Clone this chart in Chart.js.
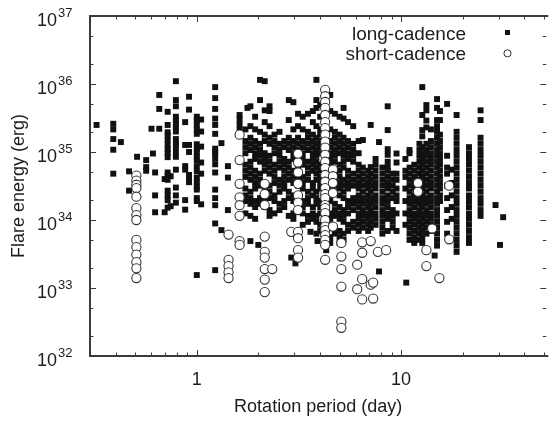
<!DOCTYPE html>
<html>
<head>
<meta charset="utf-8">
<script src="https://cdn.jsdelivr.net/npm/chart.js@4/dist/chart.umd.min.js"></script>
<style>
html, body { margin: 0; padding: 0; background: #fff; }
#wrap { width: 552px; height: 423px; }
</style>
</head>
<body>
<div id="wrap"><canvas id="c" width="552" height="423"></canvas></div>
<script>
// ---- data (energies in units of 1e33 erg) ----
const ENERGY_UNIT = 1e33;

const xMajorTicks = [1, 10];
const xMinorTicks = [0.4, 0.5, 0.6, 0.7, 0.8, 0.9, 2, 3, 4, 5, 6, 7, 8, 9, 20, 30, 40, 50];
const yMajorTicks = [1e32, 1e33, 1e34, 1e35, 1e36, 1e37];
const yMinorTicks = [2e32, 5e32, 2e33, 5e33, 2e34, 5e34, 2e35, 5e35, 2e36, 5e36];

const seriesNames = ['long-cadence', 'short-cadence'];

// long-cadence: one entry per star (rotation period, day) with its flare energies
const lcPeriods = [
  0.323, 0.39, 0.425, 0.466, 0.51, 0.565, 0.60, 0.61, 0.625, 0.655, 0.696, 0.72, 0.745, 0.79, 0.877, 0.916,
  1.0, 1.05, 1.23, 1.32, 1.42, 1.62,
  1.73, 1.77, 1.83, 1.93, 2.0, 2.04, 2.15, 2.27, 2.4, 2.54, 2.68, 2.82, 2.9, 2.97, 3.04, 3.13,
  3.3, 3.5, 3.6, 3.7, 3.85, 3.9, 4.02, 4.25, 4.3, 4.5, 4.74, 5.0, 5.23, 5.5, 5.83,
  6.2, 6.5, 6.9, 7.1, 7.5, 7.8, 8.1, 8.6, 9.1, 9.5,
  10.5, 10.6, 11.0, 11.6, 12.3, 12.7, 13.3, 14.0, 14.6, 15.0, 15.5, 16.8, 17.7, 18.7, 21.5, 24.5, 29, 30.5, 31.6
];
const lcEnergies = [
  [250],
  [260, 215, 155, 108, 48],
  [140],
  [52, 27],
  [85],
  [76, 60, 53],
  [220],
  [95],
  [50, 23, 13],
  [690, 430, 220],
  [40, 13],
  [390, 250, 195, 175, 150, 127, 110, 97, 84, 50, 45, 39, 27, 23, 19.6, 15.2],
  [44, 16],
  [1100, 580, 470, 330, 290, 260, 230, 200, 155, 135, 120, 100, 85, 55, 30, 23, 18],
  [275, 127, 62, 55, 19.6, 14.2],
  [650, 420, 127, 100, 46, 39, 36],
  [330, 290, 250, 215, 185, 130, 112, 98, 86, 76, 62, 52, 42, 36, 31, 28, 21, 19, 1.55],
  [300, 200, 120, 70, 48, 17],
  [900, 620, 430, 310, 250, 185, 112, 102, 93, 80, 66, 50, 28, 21, 16.5, 8.9, 1.83],
  [135, 7.1],
  [62, 42, 14],
  [350, 300, 250, 210],
  // 1.73 .. 3.13
  [215, 145, 118, 96, 65, 53, 43, 29, 23, 19, 12.5],
  [445],
  [470, 240, 162, 132, 107, 72, 59, 48, 39, 26, 21, 17.3, 11.5, 4.9],
  [330, 215, 145, 118, 96, 79, 53, 43, 35, 29, 19, 15.5, 10.4],
  [4.3],
  [1150, 580, 198, 132, 107, 88, 72, 48, 39, 32, 21, 17.3],
  [1100, 410, 275, 180, 145, 96, 79, 65, 53, 29, 19, 15.5],
  [470, 400, 240, 162, 132, 88, 72, 59, 48, 32, 26, 21, 14, 11.5],
  [180, 145, 118, 96, 65, 53, 43, 35, 23, 19, 12.5],
  [198, 132, 107, 88, 72, 59, 39, 32, 26, 17.3, 14],
  [145, 118, 79, 65, 53, 43, 35, 29, 19, 15.5],
  [580, 295, 162, 132, 107, 72, 59, 48, 39, 26, 21, 11.5],
  [2.8],
  [540, 215, 145, 118, 96, 79, 53, 43, 35, 23, 19, 12.5, 10.4],
  [2.3],
  [365, 240, 162, 132, 107, 88, 59, 48, 39, 32, 21, 17.3, 14],
  // 3.3 .. 5.83
  [330, 215, 145, 118, 96, 79, 65, 43, 35, 29, 19, 15.5, 12.5, 8.5],
  [365, 198, 162, 132, 107, 72, 59, 48, 39, 26, 21, 17.3, 11.5, 9.4],
  [6.7],
  [400, 275, 180, 145, 118, 96, 79, 65, 53, 35, 29, 23, 15.5, 12.5, 10.4],
  [1150, 580, 445, 240, 162, 132, 107, 88, 72, 59, 48, 39, 26, 21, 17.3, 11.5, 9.4, 6.3],
  [4.9],
  [490, 330, 215, 180, 145, 118, 96, 65, 53, 43, 35, 29, 19, 15.5, 12.5, 8.5, 6.9],
  [445, 198, 132, 88, 59, 39, 26, 17.3, 11.5, 7.7, 5.1],
  [3.6],
  [690, 400, 215, 145, 118, 96, 79, 65, 53, 43, 29, 23, 19, 12.5, 10.4, 8.5, 5.6, 4.6],
  [365, 198, 162, 132, 107, 88, 72, 48, 39, 32, 26, 17.3, 14, 11.5, 7.7, 6.3],
  [330, 180, 145, 118, 96, 65, 53, 43, 35, 29, 23, 15.5, 12.5, 10.4, 6.9, 5.6, 4.6],
  [445, 310, 162, 132, 107, 88, 72, 59, 39, 32, 26, 21, 14, 11.5, 9.4, 6.3, 5.1],
  [275, 145, 118, 96, 79, 53, 43, 35, 29, 19, 15.5, 12.5, 8.5, 6.9],
  [240, 132, 107, 88, 72, 48, 39, 32, 21, 17.3, 14, 9.4, 7.7],
  // 6.2 .. 9.5
  [145, 96, 65, 53, 43, 35, 29, 23, 19, 15.5, 12.5, 10.4, 8.5, 6.9],
  [150, 59, 48, 39, 32, 26, 21, 17.3, 14, 11.5, 9.4, 7.7],
  [53, 43, 35, 29, 23, 19, 15.5, 12.5, 10.4, 8.5, 6.9],
  [250, 60, 48, 39, 32, 26, 21, 17.3, 14, 11.5, 9.4, 7.7],
  [79, 65, 53, 43, 35, 29, 23, 19, 15.5, 12.5, 10.4, 8.5],
  [140, 1.75],
  [59, 48, 39, 32, 26, 21, 17.3, 14, 11.5, 9.4, 7.7, 6.3],
  [470, 210, 110, 91, 72, 60, 53, 43, 35, 29, 23, 19, 15.5, 12.5, 10.4, 6.9],
  [48, 39, 32, 26, 21, 14, 11.5, 9.4, 7.7],
  [95, 70, 48, 39, 29, 23, 19, 12.5, 6.9],
  // 10.5 .. 31.6
  [79, 53, 43, 29, 19, 12.5, 8.5],
  [1.2],
  [107, 96, 59, 48, 39, 32, 26, 21, 17.3, 14, 11.5, 9.4, 7.7, 6.3, 5.1],
  [65, 53, 43, 35, 29, 23, 19, 15.5, 12.5, 10.4, 8.5, 6.9, 5.6, 4.6],
  [132, 107, 88, 72, 59, 48, 39, 32, 21, 17.3, 14, 11.5, 9.4, 7.7, 6.3, 5.1],
  [900, 350, 210, 170, 118, 96, 79, 65, 53, 43, 35, 29, 23, 19, 15.5, 12.5, 10.4, 8.5, 6.9, 5.6, 4.6],
  [490, 410, 290, 230, 132, 107, 88, 72, 59, 48, 39, 32, 26, 21, 17.3, 14, 11.5, 9.4, 7.7, 6.3],
  [215, 145, 118, 96, 79, 65, 53, 43, 35, 29, 23, 19, 15.5, 12.5, 10.4, 8.5, 6.9],
  [3.0],
  [600, 445, 295, 240, 198, 162, 132, 107, 88, 72, 59, 48, 39, 32, 26, 21, 17.3, 14, 11.5, 9.4, 7.7, 6.3, 5.1, 4.2],
  [400, 295, 180, 145, 118, 96, 79, 65, 53, 43, 35, 29, 23, 19],
  [510, 88, 59, 48, 32, 21, 14, 9.4, 6.3],
  [55, 35, 23, 15.5, 10.4],
  [350, 198, 162, 132, 107, 88, 72, 59, 48, 39, 32, 26, 21, 17.3, 14, 11.5, 9.4, 7.7, 6.3, 5.1, 4.2, 3.4],
  [118, 96, 79, 65, 53, 43, 35, 29, 23, 19, 15.5, 12.5, 10.4, 8.5, 6.9, 5.6, 4.6],
  [410, 295, 162, 132, 107, 88, 72, 59, 48, 39, 32, 26, 21, 17.3, 14, 11.5],
  [16.6],
  [4.3],
  [11]
];

// short-cadence: one entry per star
const scPeriods = [0.506, 1.43, 1.62, 2.15, 2.34, 2.9, 3.13, 4.25, 4.64, 5.1, 6.1, 6.45, 7.1, 7.3, 7.7, 8.45, 12.1, 13.3, 14.2, 15.4, 17.2];
const scEnergies = [
  [45, 38, 33, 29.5, 22, 15, 11.8, 10, 5.1, 4.0, 3.1, 2.4, 1.95, 1.4],
  [6.1, 2.6, 2.1, 1.7, 1.4],
  [180, 76, 34, 21.5, 16.5, 11.5, 4.9, 4.3],
  [34, 24, 16.6, 5.7, 3.4, 2.8, 1.9, 1.33, 0.87],
  [1.9],
  [6.7],
  [94, 70, 50, 34, 23, 18, 14, 6.7, 5.4, 3.6, 2.8],
  [820, 660, 545, 445, 350, 275, 225, 180, 142, 116, 91, 72, 58, 46, 36.5, 29.5, 24, 21, 16.6, 15, 12.6, 10, 8, 7.1, 6, 5.1, 4.3, 2.6],
  [55, 44, 35, 25, 8],
  [4.6, 2.9, 1.9, 1.05, 0.32, 0.26],
  [2.2, 0.96],
  [4.7, 3.3, 1.35, 0.68],
  [4.9, 1.12],
  [1.2, 0.7],
  [3.4],
  [3.6],
  [35, 26],
  [3.6, 2.1],
  [7.5],
  [1.4],
  [32, 5.2]
];

// ---- chart ----
const FONT = "'Liberation Sans', Arial, Helvetica, sans-serif";
const TEXT = '#1c1c1c';
const FRAME = '#3a3a3a';

function toPoints(periods, energies) {
  const pts = [];
  periods.forEach((p, i) => energies[i].forEach(e => pts.push({ x: p, y: e * ENERGY_UNIT })));
  return pts;
}

const framePlugin = {
  id: 'framePlugin',
  beforeDatasetsDraw(chart) {
    const { ctx, chartArea: a, scales } = chart;
    const xs = scales.x, ys = scales.y;
    ctx.save();
    ctx.strokeStyle = FRAME;
    ctx.lineWidth = 1;
    const seg = (x1, y1, x2, y2) => { ctx.beginPath(); ctx.moveTo(x1, y1); ctx.lineTo(x2, y2); ctx.stroke(); };
    const xt = (vals, len) => vals.forEach(v => {
      const px = Math.round(xs.getPixelForValue(v)) + 0.5;
      seg(px, a.bottom, px, a.bottom - len);
      seg(px, a.top, px, a.top + len);
    });
    const yt = (vals, len) => vals.forEach(v => {
      const py = Math.round(ys.getPixelForValue(v)) + 0.5;
      seg(a.left, py, a.left + len, py);
      seg(a.right, py, a.right - len, py);
    });
    xt(xMajorTicks, 6); xt(xMinorTicks, 3.5);
    yt(yMajorTicks, 6); yt(yMinorTicks, 3.5);
    ctx.lineWidth = 2;
    ctx.beginPath();
    ctx.moveTo(a.right + 2, a.top);
    ctx.lineTo(a.left, a.top);
    ctx.lineTo(a.left, a.bottom);
    ctx.lineTo(a.right + 2, a.bottom);
    ctx.stroke();
    ctx.restore();
  },
  afterDraw(chart) {
    const { ctx, chartArea: a, scales } = chart;
    const ys = scales.y;
    ctx.save();
    ctx.fillStyle = TEXT;
    ctx.textBaseline = 'alphabetic';
    // y tick labels with superscript exponents
    yMajorTicks.forEach(v => {
      const py = ys.getPixelForValue(v);
      const ex = String(Math.round(Math.log10(v)));
      ctx.font = '18px ' + FONT;
      ctx.textAlign = 'right';
      ctx.fillText('10', a.left - 33, py + 9.5);
      ctx.font = '13px ' + FONT;
      ctx.textAlign = 'left';
      ctx.fillText(ex, a.left - 32, py + 1);
    });
    // legend (inside, top right)
    ctx.font = '19px ' + FONT;
    ctx.textAlign = 'right';
    ctx.fillText(seriesNames[0], 466, 39.5);
    ctx.fillText(seriesNames[1], 466, 60);
    ctx.fillStyle = '#111';
    ctx.fillRect(505, 30, 5, 5);
    ctx.beginPath();
    ctx.arc(507.5, 53.3, 3.6, 0, Math.PI * 2);
    ctx.fillStyle = '#fff';
    ctx.fill();
    ctx.strokeStyle = '#333';
    ctx.lineWidth = 1;
    ctx.stroke();
    ctx.restore();
  }
};

new Chart(document.getElementById('c'), {
  type: 'scatter',
  data: {
    datasets: [
      {
        label: seriesNames[1],
        data: toPoints(scPeriods, scEnergies),
        pointStyle: 'circle',
        pointRadius: 4.6,
        backgroundColor: '#ffffff',
        borderColor: '#333333',
        borderWidth: 1.1,
        clip: false,
        order: 0
      },
      {
        label: seriesNames[0],
        data: toPoints(lcPeriods, lcEnergies),
        pointStyle: 'rect',
        pointRadius: 4.2,
        backgroundColor: '#111111',
        borderWidth: 0,
        clip: false,
        order: 1
      }
    ]
  },
  options: {
    responsive: false,
    animation: false,
    devicePixelRatio: 1,
    layout: { padding: { left: 0, right: 0, top: 16, bottom: 0 } },
    plugins: { legend: { display: false }, tooltip: { enabled: false } },
    scales: {
      x: {
        type: 'logarithmic',
        position: 'bottom',
        min: 0.3243,
        max: 51.4,
        afterBuildTicks: s => { s.ticks = xMajorTicks.map(v => ({ value: v })); },
        afterFit: s => { s.height = 67; },
        grid: { display: false, drawTicks: false },
        border: { display: false },
        ticks: {
          callback: v => String(v),
          font: { family: FONT, size: 18 },
          color: TEXT,
          padding: 13,
          maxRotation: 0,
          autoSkip: false
        },
        title: {
          display: true,
          text: 'Rotation period (day)',
          font: { family: FONT, size: 18 },
          color: TEXT,
          padding: { top: 0, bottom: 5 }
        }
      },
      y: {
        type: 'logarithmic',
        position: 'left',
        min: 1e32,
        max: 1e37,
        afterBuildTicks: s => { s.ticks = yMajorTicks.map(v => ({ value: v })); },
        afterFit: s => { s.width = 90; },
        grid: { display: false, drawTicks: false },
        border: { display: false },
        ticks: { display: false },
        title: {
          display: true,
          text: 'Flare energy (erg)',
          font: { family: FONT, size: 18 },
          color: TEXT,
          padding: { top: 8, bottom: 0 }
        }
      }
    }
  },
  plugins: [framePlugin]
});
</script>
</body>
</html>
